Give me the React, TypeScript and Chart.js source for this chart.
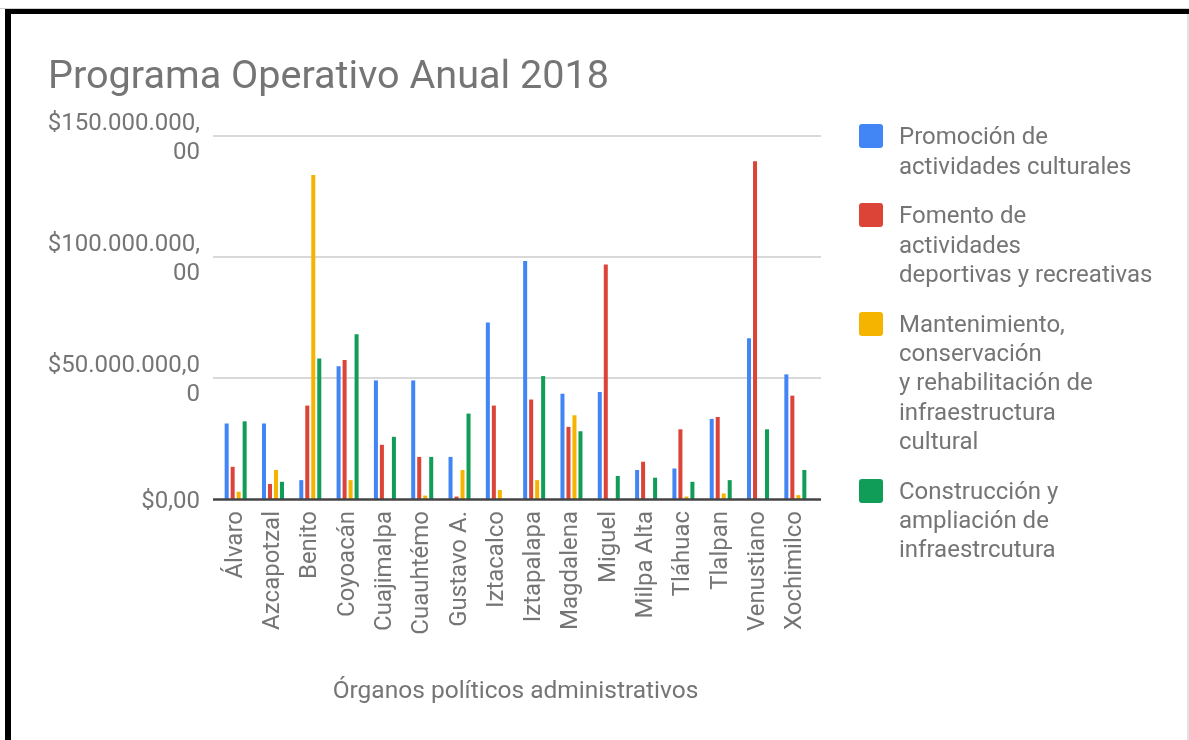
import React, { useEffect, useRef } from "react";
import { Chart, registerables } from "chart.js";

Chart.register(...registerables);

const chartTitle = "Programa Operativo Anual 2018";
const xAxisTitle = "Órganos políticos administrativos";

const categories = [
  "Álvaro",
  "Azcapotzal",
  "Benito",
  "Coyoacán",
  "Cuajimalpa",
  "Cuauhtémo",
  "Gustavo A.",
  "Iztacalco",
  "Iztapalapa",
  "Magdalena",
  "Miguel",
  "Milpa Alta",
  "Tláhuac",
  "Tlalpan",
  "Venustiano",
  "Xochimilco",
];

const promocionCultural = [
  31200000, 31200000, 7800000, 54900000, 49000000, 49000000, 17400000, 72900000,
  98300000, 43500000, 44200000, 12000000, 12600000, 33100000, 66400000, 51500000,
];
const fomentoDeportivo = [
  13300000, 6200000, 38600000, 57400000, 22400000, 17400000, 1000000, 38600000,
  41100000, 29800000, 96900000, 15400000, 28800000, 33900000, 139600000, 42700000,
];
const mantenimientoInfra = [
  3000000, 12000000, 133900000, 7800000, null, 1400000, 12000000, 3700000,
  7800000, 34600000, null, null, 1000000, 2300000, null, 1600000,
];
const construccionInfra = [
  32100000, 7100000, 58100000, 68100000, 25700000, 17400000, 35300000, null,
  50800000, 28000000, 9500000, 8800000, 7100000, 7800000, 28800000, 12000000,
];

const seriesLegendLines = [
  ["Promoción de", "actividades culturales"],
  ["Fomento de", "actividades", "deportivas y recreativas"],
  ["Mantenimiento,", "conservación", "y rehabilitación de", "infraestructura", "cultural"],
  ["Construcción y", "ampliación de", "infraestrcutura"],
];
const seriesColors = ["#4285F4", "#DB4437", "#F4B400", "#0F9D58"];

const yTickValues = [0, 50000000, 100000000, 150000000];
const yTickLabels = [
  ["$0,00"],
  ["$50.000.000,0", "0"],
  ["$100.000.000,", "00"],
  ["$150.000.000,", "00"],
];

const FONT = "Roboto";
const TEXT_COLOR = "#757575";
const Y_FONT_SIZE = 24;
const Y_LINE_H = 29;

const gridPlugin = {
  id: "customGrid",
  beforeDatasetsDraw(chart: any) {
    const { ctx, chartArea, scales } = chart;
    const y = scales.y;
    ctx.save();
    ctx.strokeStyle = "#cccccc";
    ctx.lineWidth = 1.5;
    yTickValues.forEach((v) => {
      if (v === 0) return;
      const py = y.getPixelForValue(v);
      ctx.beginPath();
      ctx.moveTo(chartArea.left - 4, py);
      ctx.lineTo(chartArea.right + 7, py);
      ctx.stroke();
    });
    ctx.restore();
  },
  afterDatasetsDraw(chart: any) {
    const { ctx, chartArea, scales } = chart;
    const py = scales.y.getPixelForValue(0);
    ctx.save();
    ctx.strokeStyle = "#444444";
    ctx.lineWidth = 2.5;
    ctx.beginPath();
    ctx.moveTo(chartArea.left - 4, py + 0.5);
    ctx.lineTo(chartArea.right + 7, py + 0.5);
    ctx.stroke();
    ctx.restore();
  },
  afterDraw(chart: any) {
    const { ctx, chartArea, scales } = chart;
    const y = scales.y;
    ctx.save();
    ctx.fillStyle = TEXT_COLOR;
    ctx.font = `${Y_FONT_SIZE}px ${FONT}`;
    ctx.textAlign = "right";
    ctx.textBaseline = "alphabetic";
    const capHalf = (Y_FONT_SIZE * 0.711) / 2;
    yTickValues.forEach((v, idx) => {
      const py = y.getPixelForValue(v);
      const lines = yTickLabels[idx];
      const n = lines.length;
      lines.forEach((line, i) => {
        const cy = py + (i - (n - 1) / 2) * Y_LINE_H;
        ctx.fillText(line, chartArea.left - 17, cy + capHalf);
      });
    });
    ctx.restore();
  },
};

export default function App() {
  const canvasRef = useRef<HTMLCanvasElement | null>(null);

  useEffect(() => {
    if (!canvasRef.current) return;
    const seriesValues = [promocionCultural, fomentoDeportivo, mantenimientoInfra, construccionInfra];
    const chart = new Chart(canvasRef.current, {
      type: "bar",
      data: {
        labels: categories,
        datasets: seriesValues.map((vals, i) => ({
          label: seriesLegendLines[i].join(" "),
          data: vals,
          backgroundColor: seriesColors[i],
          borderWidth: 0,
          categoryPercentage: 0.643,
          barPercentage: 0.67,
        })),
      },
      options: {
        responsive: false,
        animation: false,
        layout: { padding: { left: 48, right: 375, top: 0, bottom: 0 } },
        plugins: {
          legend: { display: false },
          tooltip: { enabled: false },
          title: {
            display: true,
            text: chartTitle,
            align: "start",
            color: TEXT_COLOR,
            font: { family: FONT, size: 39.6, weight: "normal", lineHeight: 1.2 },
            padding: { top: 54.5, bottom: 33.98 },
          },
        },
        scales: {
          x: {
            grid: { display: false, drawTicks: false },
            border: { display: false },
            ticks: {
              autoSkip: false,
              maxRotation: 90,
              minRotation: 90,
              padding: 12,
              color: TEXT_COLOR,
              font: { family: FONT, size: 24 },
            },
            title: {
              display: true,
              text: xAxisTitle,
              color: TEXT_COLOR,
              font: { family: FONT, size: 24.5, lineHeight: 1.2 },
              padding: { top: 0, bottom: 33 },
            },
            afterFit(scale: any) {
              scale.height = 241;
            },
          },
          y: {
            min: 0,
            max: 150000000,
            grid: { display: false, drawTicks: false },
            border: { display: false },
            ticks: {
              stepSize: 50000000,
              padding: 17,
              color: "rgba(0,0,0,0)",
              font: { family: FONT, size: Y_FONT_SIZE, lineHeight: `${Y_LINE_H}px` },
              callback: (v: any) => {
                const idx = yTickValues.indexOf(Number(v));
                return idx >= 0 ? yTickLabels[idx] : "";
              },
            },
            afterFit(scale: any) {
              scale.width = 169;
            },
          },
        },
      } as any,
      plugins: [gridPlugin],
    });
    return () => chart.destroy();
  }, []);

  const lineH = 29.3;
  return (
    <div
      style={{
        position: "absolute",
        left: 0,
        top: 0,
        width: 1189,
        height: 740,
        background: "#ffffff",
        overflow: "hidden",
        fontFamily: FONT,
      }}
    >
      <canvas ref={canvasRef} width={1189} height={740} style={{ position: "absolute", left: 0, top: 0, display: "block" }} />
      <div
        style={{
          position: "absolute",
          left: 859,
          top: 122.4,
          display: "flex",
          flexDirection: "column",
          gap: 20.5,
        }}
      >
        {seriesLegendLines.map((lines, i) => (
          <div key={i} style={{ display: "flex", alignItems: "flex-start" }}>
            <div
              style={{
                width: 24,
                height: 24,
                borderRadius: 3,
                background: seriesColors[i],
                marginTop: (lineH - 24) / 2 - 1,
                flex: "0 0 auto",
              }}
            />
            <div
              style={{
                marginLeft: 16,
                fontSize: 24,
                lineHeight: `${lineH}px`,
                color: TEXT_COLOR,
                whiteSpace: "nowrap",
              }}
            >
              {lines.map((l, j) => (
                <div key={j}>{l}</div>
              ))}
            </div>
          </div>
        ))}
      </div>
      <div style={{ position: "absolute", left: 0, top: 8, width: 1189, height: 1, background: "#cfcfcf" }} />
      <div style={{ position: "absolute", left: 5, top: 9, right: 0, height: 5, background: "#000000" }} />
      <div style={{ position: "absolute", left: 5, top: 9, width: 6, bottom: 0, background: "#000000" }} />
      <div style={{ position: "absolute", left: 1187, top: 14, width: 2, bottom: 0, background: "#e2e2e2" }} />
    </div>
  );
}
